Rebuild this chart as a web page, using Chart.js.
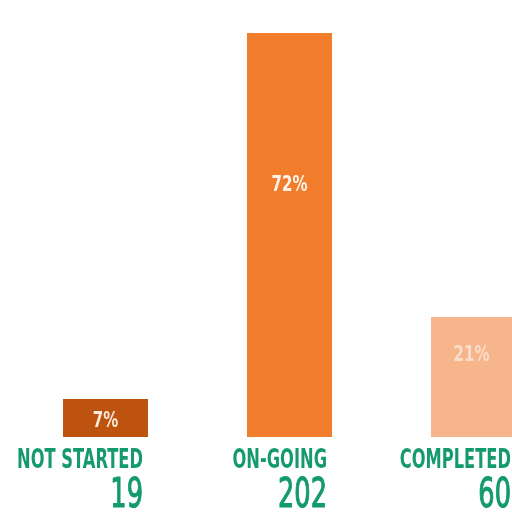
<!DOCTYPE html>
<html>
<head>
<meta charset="utf-8">
<script src="https://cdn.jsdelivr.net/npm/chart.js@4"></script>
<style>
  html, body { margin: 0; padding: 0; background: #fff; overflow: hidden; }
  #wrap { width: 512px; height: 519px; overflow: hidden; position: relative; }
  canvas { position: absolute; left: 0; top: 0; }
</style>
</head>
<body>
<div id="wrap"><canvas id="chart" width="600" height="519"></canvas></div>
<script>
// status breakdown
const statuses = ['NOT STARTED', 'ON-GOING', 'COMPLETED'];
const counts = [19, 202, 60];
const percents = ['7%', '72%', '21%'];
const barColors = ['#bd530f', '#f17d2c', '#f6b58b'];
const pctColors = ['#fbe9dc', '#fff4ea', 'rgba(255,255,255,0.55)'];

const green = '#149a6c';

// draws the percent inside bars and the status + count underneath
const labelPlugin = {
  id: 'statusLabels',
  afterDatasetsDraw(chart) {
    const ctx = chart.ctx;
    const bars = chart.getDatasetMeta(0).data;
    ctx.save();

    ctx.font = 'bold 26px "DejaVu Sans"';
    const labScale = 126 / ctx.measureText('NOT STARTED').width;
    ctx.font = '41px "DejaVu Sans"';
    const numScale = 49 / ctx.measureText('202').width;
    ctx.font = 'bold 22px "DejaVu Sans"';
    const pctScale = 36 / ctx.measureText('72%').width;

    bars.forEach((bar, i) => {
      const right = bar.x + bar.width / 2 - 5;

      // status name
      ctx.save();
      ctx.fillStyle = green;
      ctx.font = 'bold 26px "DejaVu Sans"';
      ctx.textAlign = 'right';
      ctx.textBaseline = 'alphabetic';
      ctx.translate(right, 468);
      ctx.scale(labScale, 1);
      ctx.fillText(statuses[i], 0, 0);
      ctx.restore();

      // count (a little heavier than the book weight)
      ctx.save();
      ctx.fillStyle = green;
      ctx.strokeStyle = green;
      ctx.lineWidth = 1.2;
      ctx.lineJoin = 'round';
      ctx.font = '41px "DejaVu Sans"';
      ctx.textAlign = 'right';
      ctx.textBaseline = 'alphabetic';
      ctx.translate(right, 507);
      ctx.scale(numScale, 1);
      ctx.fillText(String(counts[i]), 0, 0);
      ctx.strokeText(String(counts[i]), 0, 0);
      ctx.restore();

      // percentage inside the bar
      const top = bar.y;
      const h = bar.base - bar.y;
      let cy;
      if (i === 0) cy = top + h / 2 + 3;
      else if (i === 1) cy = 185;
      else cy = top + 38;
      ctx.save();
      ctx.fillStyle = pctColors[i];
      ctx.font = 'bold 22px "DejaVu Sans"';
      ctx.textAlign = 'center';
      ctx.textBaseline = 'middle';
      ctx.translate(bar.x - (i === 2 ? 2 : 0), cy);
      ctx.scale(pctScale, 1);
      ctx.fillText(percents[i], 0, 0);
      ctx.restore();
    });
    ctx.restore();
  }
};

new Chart(document.getElementById('chart'), {
  type: 'bar',
  data: {
    labels: statuses,
    datasets: [{
      data: counts,
      backgroundColor: barColors,
      borderWidth: 0,
      barPercentage: 85 / 184,
      categoryPercentage: 1
    }]
  },
  options: {
    responsive: false,
    animation: false,
    layout: { padding: { left: 13.5, right: 34.5, top: 33, bottom: 82 } },
    plugins: { legend: { display: false }, tooltip: { enabled: false } },
    scales: {
      x: { display: false },
      y: { display: false, min: 0, max: 202 }
    }
  },
  plugins: [labelPlugin]
});
</script>
</body>
</html>
